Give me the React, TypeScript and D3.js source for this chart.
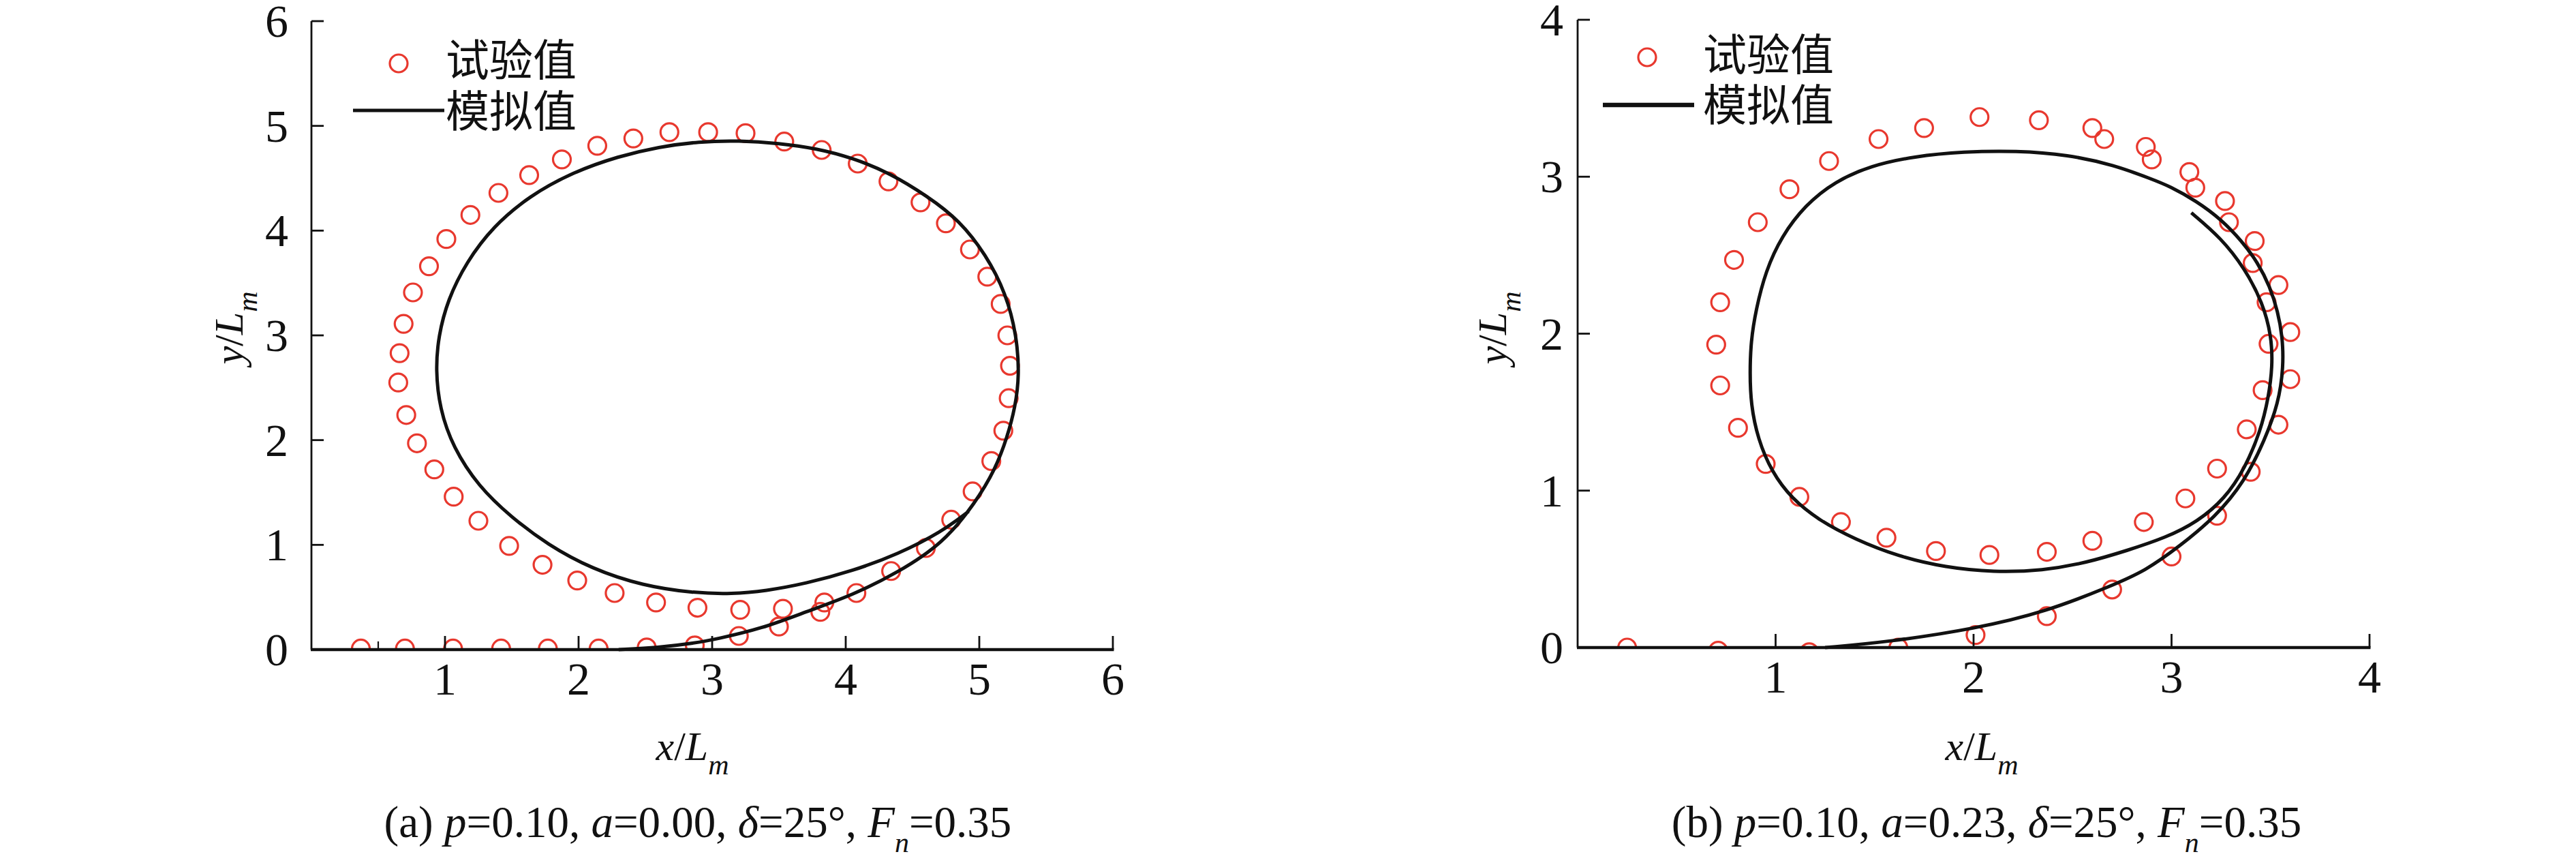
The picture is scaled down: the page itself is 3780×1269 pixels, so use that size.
import React from 'react';
import * as d3 from 'd3';

// ---------- data: panel (a) ----------
const aExpX = [0.37,0.70,1.06,1.42,1.77,2.15,2.51,2.87,3.20,3.50,3.81,4.08,4.34,4.60,4.79,4.95,5.09,5.18,5.22,5.23,5.21,5.16,5.06,4.93,4.75,4.56,4.32,4.09,3.82,3.54,3.25,2.97,2.68,2.41,2.14,1.875,1.63,1.40,1.19,1.01,0.88,0.76,0.69,0.66,0.65,0.71,0.79,0.92,1.065,1.25,1.48,1.73,1.99,2.27,2.58,2.89,3.21,3.53,3.84];
const aExpY = [0.01,0.01,0.01,0.01,0.01,0.01,0.02,0.04,0.13,0.22,0.36,0.54,0.75,0.97,1.24,1.51,1.80,2.09,2.40,2.71,3.00,3.30,3.56,3.82,4.07,4.27,4.47,4.64,4.77,4.85,4.93,4.94,4.94,4.88,4.81,4.68,4.53,4.36,4.15,3.92,3.66,3.41,3.11,2.83,2.55,2.24,1.97,1.72,1.46,1.23,0.99,0.81,0.66,0.54,0.45,0.40,0.38,0.39,0.45];
const aSimX = [2.30,2.60,2.86,3.03,3.37,3.70,4.05,4.39,4.73,4.97,5.12,5.21,5.27,5.30,5.28,5.20,5.05,4.85,4.61,4.33,4.05,3.78,3.50,3.20,2.90,2.60,2.30,1.96,1.63,1.36,1.16,1.02,0.95,0.93,0.96,1.06,1.25,1.49,1.77,2.10,2.48,2.86,3.15,3.40,3.70,4.05,4.39,4.72,4.92];
const aSimY = [0.00,0.02,0.06,0.10,0.20,0.36,0.52,0.735,1.015,1.40,1.72,2.03,2.32,2.62,3.00,3.40,3.77,4.10,4.33,4.55,4.695,4.785,4.835,4.86,4.85,4.80,4.71,4.56,4.33,4.04,3.70,3.34,2.99,2.67,2.30,1.93,1.56,1.27,1.00,0.77,0.61,0.54,0.53,0.56,0.63,0.75,0.91,1.125,1.32];
const aXTicks = [1, 2, 3, 4, 5, 6];
const aXMinorTicks = [0.5];
const aYTicks = [0, 1, 2, 3, 4, 5, 6];

// ---------- data: panel (b) ----------
const bExpX = [0.25,0.71,1.17,1.62,2.01,2.37,2.70,3.00,3.23,3.40,3.54,3.60,3.60,3.54,3.42,3.27,3.09,2.87,2.60,2.33,2.03,1.75,1.52,1.27,1.07,0.91,0.79,0.72,0.70,0.72,0.81,0.95,1.12,1.33,1.56,1.81,2.08,2.37,2.60,2.86,3.07,3.23,3.38,3.46,3.49,3.48,3.41,3.29,3.12,2.90,2.66];
const bExpY = [0.00,-0.02,-0.03,0.00,0.08,0.20,0.37,0.58,0.84,1.12,1.42,1.71,2.01,2.31,2.59,2.845,3.03,3.19,3.31,3.36,3.38,3.31,3.24,3.10,2.92,2.71,2.47,2.20,1.93,1.67,1.40,1.17,0.96,0.80,0.70,0.615,0.59,0.61,0.68,0.80,0.95,1.14,1.39,1.64,1.935,2.20,2.45,2.71,2.93,3.11,3.24];
const bSimX = [1.25,1.57,2.01,2.37,2.69,2.87,3.04,3.22,3.37,3.47,3.54,3.566,3.56,3.537,3.497,3.435,3.355,3.252,3.126,2.99,2.90,2.708,2.478,2.215,1.95,1.70,1.48,1.30,1.15,1.03,0.95,0.90,0.875,0.87,0.875,0.91,0.98,1.08,1.22,1.40,1.62,1.86,2.10,2.35,2.57,2.78,2.97,3.13,3.27,3.37,3.45,3.49,3.51,3.505,3.46,3.37,3.25,3.10];
const bSimY = [0.00,0.036,0.12,0.23,0.39,0.49,0.645,0.83,1.06,1.32,1.555,1.79,1.985,2.14,2.30,2.454,2.59,2.727,2.845,2.94,2.985,3.075,3.14,3.166,3.16,3.13,3.07,2.97,2.82,2.62,2.40,2.15,1.95,1.75,1.55,1.33,1.12,0.95,0.81,0.69,0.58,0.51,0.48,0.49,0.54,0.62,0.70,0.80,0.95,1.14,1.38,1.594,1.79,1.985,2.199,2.415,2.61,2.77];
const bXTicks = [1, 2, 3, 4];
const bXMinorTicks: number[] = [];
const bYTicks = [0, 1, 2, 3, 4];

// ---------- labels ----------
const legendLabels = ['试验值', '模拟值'];
const captionA = { tag: '(a) ', p: '0.10', a: '0.00', d: '25°', f: '0.35' };
const captionB = { tag: '(b) ', p: '0.10', a: '0.23', d: '25°', f: '0.35' };

const SERIF = '"Liberation Serif", "Times New Roman", Times, serif';
const CJK = '"Noto Sans CJK SC", "Noto Sans CJK JP", sans-serif';
const RED = '#e8382e';
const INK = '#111';

type PanelCfg = {
  id: string;
  x0: number; x1: number; yTop: number; yBot: number;
  xMax: number; yMax: number;
  xTicks: number[]; xMinor: number[]; yTicks: number[];
  expX: number[]; expY: number[]; simX: number[]; simY: number[];
  yLabelGap: number;
  yTitleX: number; xTitleCx: number; captionCx: number;
  caption: typeof captionA;
  legend: { cx: number; cy: number; textX: number; t1y: number; lineX0: number; lineX1: number; lineY: number; t2y: number; lineW: number };
};

const panels: PanelCfg[] = [
  {
    id: 'a', x0: 457, x1: 1633, yTop: 31, yBot: 953, xMax: 6, yMax: 6,
    xTicks: aXTicks, xMinor: aXMinorTicks, yTicks: aYTicks,
    expX: aExpX, expY: aExpY, simX: aSimX, simY: aSimY,
    yLabelGap: 34, yTitleX: 356, xTitleCx: 1016, captionCx: 1024, caption: captionA,
    legend: { cx: 585, cy: 93, textX: 654, t1y: 87, lineX0: 518, lineX1: 652, lineY: 162, t2y: 162, lineW: 5 },
  },
  {
    id: 'b', x0: 2315, x1: 3477, yTop: 29, yBot: 950, xMax: 4, yMax: 4,
    xTicks: bXTicks, xMinor: bXMinorTicks, yTicks: bYTicks,
    expX: bExpX, expY: bExpY, simX: bSimX, simY: bSimY,
    yLabelGap: 21, yTitleX: 2210, xTitleCx: 2908, captionCx: 2915, caption: captionB,
    legend: { cx: 2417, cy: 84, textX: 2499, t1y: 79, lineX0: 2352, lineX1: 2486, lineY: 154, t2y: 153, lineW: 6.5 },
  },
];

function Panel({ c }: { c: PanelCfg }) {
  const x = d3.scaleLinear().domain([0, c.xMax]).range([c.x0, c.x1]);
  const y = d3.scaleLinear().domain([0, c.yMax]).range([c.yBot, c.yTop]);
  const pts: [number, number][] = c.simX.map((v, i) => [v, c.simY[i]]);
  const line = d3.line<[number, number]>()
    .x((d) => x(d[0]))
    .y((d) => y(d[1]))
    .curve(d3.curveBasis);
  const clipId = `clip-${c.id}`;
  const tickFs = 68;
  const L = c.legend;
  return (
    <g>
      <defs>
        <clipPath id={clipId}>
          <rect x={c.x0 - 40} y={0} width={c.x1 - c.x0 + 80} height={c.yBot} />
        </clipPath>
      </defs>
      {/* experimental circles */}
      <g clipPath={`url(#${clipId})`}>
        {c.expX.map((v, i) => (
          <circle key={i} cx={x(v)} cy={y(c.expY[i])} r={13} fill="none" stroke={RED} strokeWidth={3.2} />
        ))}
      </g>
      {/* simulated curve */}
      <path d={line(pts) || ''} fill="none" stroke={INK} strokeWidth={5} strokeLinejoin="round" strokeLinecap="butt" />
      {/* axes */}
      <line x1={c.x0} y1={c.yTop} x2={c.x0} y2={c.yBot} stroke={INK} strokeWidth={2.8} />
      <line x1={c.x0 - 1} y1={c.yBot} x2={c.x1 + 1.5} y2={c.yBot} stroke={INK} strokeWidth={4.5} />
      {c.yTicks.filter((t) => t > 0).map((t) => (
        <line key={`yt${t}`} x1={c.x0} x2={c.x0 + 18} y1={y(t)} y2={y(t)} stroke={INK} strokeWidth={2.8} />
      ))}
      {c.xTicks.map((t) => (
        <line key={`xt${t}`} x1={x(t)} x2={x(t)} y1={c.yBot} y2={c.yBot - 20} stroke={INK} strokeWidth={2.8} />
      ))}
      {c.xMinor.map((t) => (
        <line key={`xm${t}`} x1={x(t)} x2={x(t)} y1={c.yBot} y2={c.yBot - 12} stroke={INK} strokeWidth={2.2} />
      ))}
      {/* tick labels */}
      {c.yTicks.map((t) => (
        <text key={`yl${t}`} x={c.x0 - c.yLabelGap} y={y(t) + 23} textAnchor="end" fontFamily={SERIF} fontSize={tickFs} fill={INK}>{t}</text>
      ))}
      {c.xTicks.map((t) => (
        <text key={`xl${t}`} x={x(t)} y={c.yBot + 66} textAnchor="middle" fontFamily={SERIF} fontSize={tickFs} fill={INK}>{t}</text>
      ))}
      {/* axis titles */}
      <text x={c.xTitleCx} y={1115} textAnchor="middle" fontFamily={SERIF} fontSize={60} fill={INK}>
        <tspan fontStyle="italic">x</tspan><tspan>/</tspan><tspan fontStyle="italic">L</tspan>
        <tspan fontStyle="italic" fontSize={42} dy={21}>m</tspan>
      </text>
      <text transform={`translate(${c.yTitleX},481) rotate(-90)`} textAnchor="middle" fontFamily={SERIF} fontSize={60} fill={INK}>
        <tspan fontStyle="italic">y</tspan><tspan>/</tspan><tspan fontStyle="italic">L</tspan>
        <tspan fontStyle="italic" fontSize={42} dy={21}>m</tspan>
      </text>
      {/* caption */}
      <text x={c.captionCx} y={1228} textAnchor="middle" fontFamily={SERIF} fontSize={65} fill={INK}>
        <tspan>{c.caption.tag}</tspan>
        <tspan fontStyle="italic">p</tspan><tspan>{`=${c.caption.p}, `}</tspan>
        <tspan fontStyle="italic">a</tspan><tspan>{`=${c.caption.a}, `}</tspan>
        <tspan fontStyle="italic">δ</tspan><tspan>{`=${c.caption.d}, `}</tspan>
        <tspan fontStyle="italic">F</tspan>
        <tspan fontStyle="italic" fontSize={42} dy={22}>n</tspan>
        <tspan dy={-22}>{`=${c.caption.f}`}</tspan>
      </text>
      {/* legend */}
      <circle cx={L.cx} cy={L.cy} r={13} fill="none" stroke={RED} strokeWidth={3.2} />
      <text x={L.textX} y={L.t1y + 24} fontFamily={CJK} fontSize={64} fill={INK}>{legendLabels[0]}</text>
      <line x1={L.lineX0} x2={L.lineX1} y1={L.lineY} y2={L.lineY} stroke={INK} strokeWidth={L.lineW} />
      <text x={L.textX} y={L.t2y + 24} fontFamily={CJK} fontSize={64} fill={INK}>{legendLabels[1]}</text>
    </g>
  );
}

export default function App() {
  return (
    <svg
      width={3780}
      height={1269}
      viewBox="0 0 3780 1269"
      style={{ position: 'absolute', left: 0, top: 0, background: '#fff' }}
    >
      <rect x={0} y={0} width={3780} height={1269} fill="#fff" />
      {panels.map((p) => (
        <Panel key={p.id} c={p} />
      ))}
    </svg>
  );
}
